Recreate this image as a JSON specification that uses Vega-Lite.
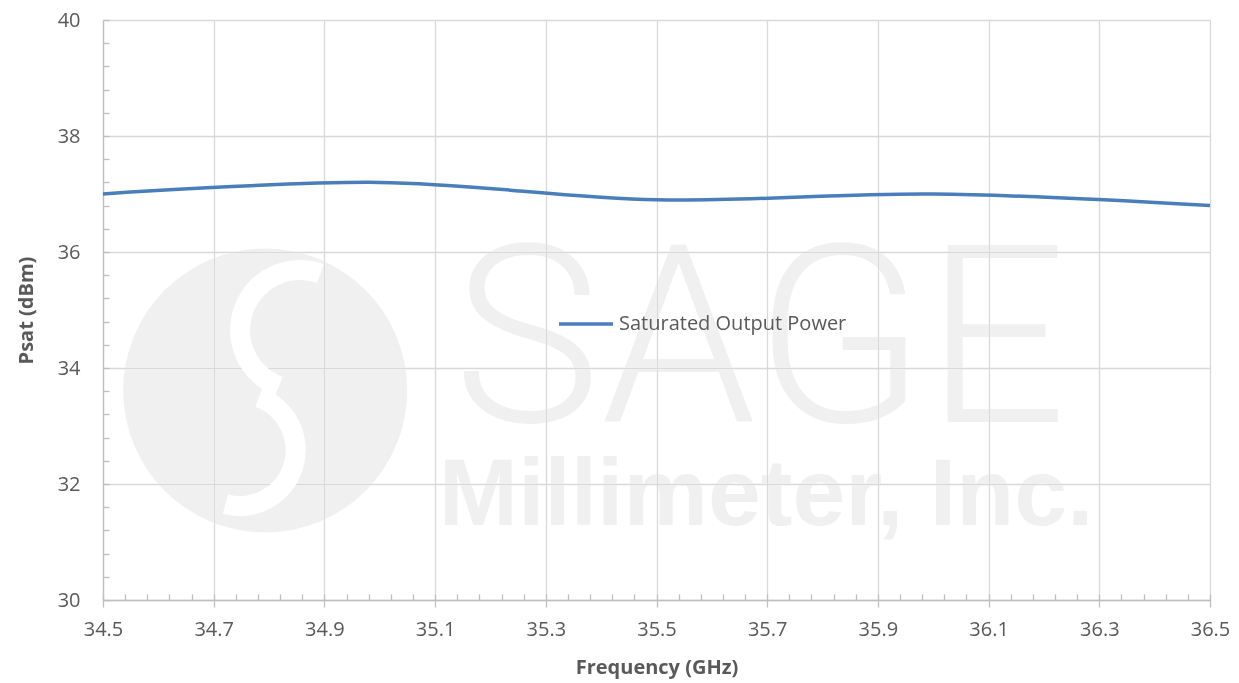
{
  "$schema": "https://vega.github.io/schema/vega-lite/v6.json",
  "width": 1107,
  "height": 580,
  "autosize": {"type": "none"},
  "padding": {"left": 103, "top": 20, "right": 29, "bottom": 83},
  "background": "white",
  "config": {"view": {"stroke": null}, "font": "Open Sans"},
  "datasets": {
    "psat": [
      {"freq": 34.5, "psat": 37.0, "series": "Saturated Output Power"},
      {"freq": 35.0, "psat": 37.2, "series": "Saturated Output Power"},
      {"freq": 35.5, "psat": 36.9, "series": "Saturated Output Power"},
      {"freq": 36.0, "psat": 37.0, "series": "Saturated Output Power"},
      {"freq": 36.5, "psat": 36.8, "series": "Saturated Output Power"}
    ],
    "logo": [{"freq": 34.793, "psat": 33.612}],
    "logoUpper": [{"freq": 34.856, "psat": 34.655}],
    "logoLower": [{"freq": 34.747, "psat": 32.586}],
    "sage": [{"freq": 35.687, "psat": 33.07, "label": "SAGE"}],
    "mm": [{"freq": 35.698, "psat": 31.3, "label": "Millimeter, Inc."}]
  },
  "layer": [
    {
      "data": {"name": "logo"},
      "mark": {"type": "point", "shape": "circle", "filled": true, "size": 80656, "color": "#f0f0f0", "opacity": 1, "blend": "darken"},
      "encoding": {
        "x": {"field": "freq", "type": "quantitative", "scale": {"domain": [34.5, 36.5], "nice": false, "zero": false}, "axis": null},
        "y": {"field": "psat", "type": "quantitative", "scale": {"domain": [30, 40], "nice": false, "zero": false}, "axis": null}
      }
    },
    {
      "data": {"name": "logoUpper"},
      "mark": {"type": "arc", "theta": 3.5, "theta2": 6.63, "radius": 70, "radius2": 50, "fill": "white"},
      "encoding": {
        "x": {"field": "freq", "type": "quantitative", "axis": null},
        "y": {"field": "psat", "type": "quantitative", "axis": null}
      }
    },
    {
      "data": {"name": "logoLower"},
      "mark": {"type": "arc", "theta": 0.35, "theta2": 3.40, "radius": 66, "radius2": 46, "fill": "white"},
      "encoding": {
        "x": {"field": "freq", "type": "quantitative", "axis": null},
        "y": {"field": "psat", "type": "quantitative", "axis": null}
      }
    },
    {
      "data": {"name": "sage"},
      "mark": {"type": "text", "font": "Roboto", "fontWeight": 300, "fontSize": 249, "align": "center", "baseline": "alphabetic", "color": "#f0f0f0", "blend": "darken"},
      "encoding": {
        "x": {"field": "freq", "type": "quantitative", "axis": null},
        "y": {"field": "psat", "type": "quantitative", "axis": null},
        "text": {"field": "label"}
      }
    },
    {
      "data": {"name": "mm"},
      "mark": {"type": "text", "font": "Liberation Sans", "fontWeight": "bold", "fontSize": 95, "align": "center", "baseline": "alphabetic", "color": "#f0f0f0", "blend": "darken"},
      "encoding": {
        "x": {"field": "freq", "type": "quantitative",
          "axis": {"orient": "bottom", "values": [34.5,34.54,34.58,34.62,34.66,34.7,34.74,34.78,34.82,34.86,34.9,34.94,34.98,35.02,35.06,35.1,35.14,35.18,35.22,35.26,35.3,35.34,35.38,35.42,35.46,35.5,35.54,35.58,35.62,35.66,35.7,35.74,35.78,35.82,35.86,35.9,35.94,35.98,36.02,36.06,36.1,36.14,36.18,36.22,36.26,36.3,36.34,36.38,36.42,36.46,36.5],
            "labels": false, "grid": false, "domain": false, "ticks": true, "tickSize": -6, "tickColor": "#bfbfbf", "tickWidth": 1.3, "title": null}},
        "y": {"field": "psat", "type": "quantitative",
          "axis": {"orient": "left", "values": [30,30.4,30.8,31.2,31.6,32,32.4,32.8,33.2,33.6,34,34.4,34.8,35.2,35.6,36,36.4,36.8,37.2,37.6,38,38.4,38.8,39.2,39.6,40],
            "labels": false, "grid": false, "domain": false, "ticks": true, "tickSize": -6, "tickColor": "#bfbfbf", "tickWidth": 1.3, "title": null}},
        "text": {"field": "label"}
      }
    },
    {
      "data": {"name": "psat"},
      "mark": {"type": "line", "interpolate": "cardinal", "tension": 0, "strokeWidth": 3.5},
      "encoding": {
        "x": {"field": "freq", "type": "quantitative",
          "axis": {"orient": "bottom", "values": [34.5,34.7,34.9,35.1,35.3,35.5,35.7,35.9,36.1,36.3,36.5], "format": ".1f",
            "grid": true, "gridColor": "#d9d9d9", "gridWidth": 1.3,
            "domainColor": "#bfbfbf", "domainWidth": 1.3,
            "tickColor": "#bfbfbf", "tickWidth": 1.3, "tickSize": 7,
            "labelFlush": false, "labelFont": "Open Sans", "labelFontSize": 20, "labelColor": "#595959", "labelPadding": 12,
            "title": "Frequency (GHz)", "titleFont": "Open Sans", "titleFontSize": 20, "titleFontWeight": "bold", "titleColor": "#595959", "titlePadding": 18}},
        "y": {"field": "psat", "type": "quantitative",
          "axis": {"orient": "left", "values": [30,32,34,36,38,40],
            "grid": true, "gridColor": "#d9d9d9", "gridWidth": 1.3,
            "domainColor": "#bfbfbf", "domainWidth": 1.3,
            "ticks": false, "labelFlush": false, "labelFont": "Open Sans", "labelFontSize": 20, "labelColor": "#595959", "labelPadding": 23,
            "title": "Psat (dBm)", "titleFont": "Open Sans", "titleFontSize": 20, "titleFontWeight": "bold", "titleColor": "#595959", "titlePadding": 21}},
        "color": {"field": "series", "type": "nominal", "scale": {"range": ["#4a7ebb"]},
          "legend": {"orient": "none", "legendX": 454, "legendY": 275, "title": null, "symbolType": "stroke", "symbolSize": 2916, "symbolStrokeWidth": 3.5,
            "labelFont": "Open Sans", "labelFontSize": 20, "labelColor": "#595959", "labelOffset": 4, "labelLimit": 400, "padding": 0}}
      }
    }
  ],
  "resolve": {"axis": {"x": "independent", "y": "independent"}}
}
